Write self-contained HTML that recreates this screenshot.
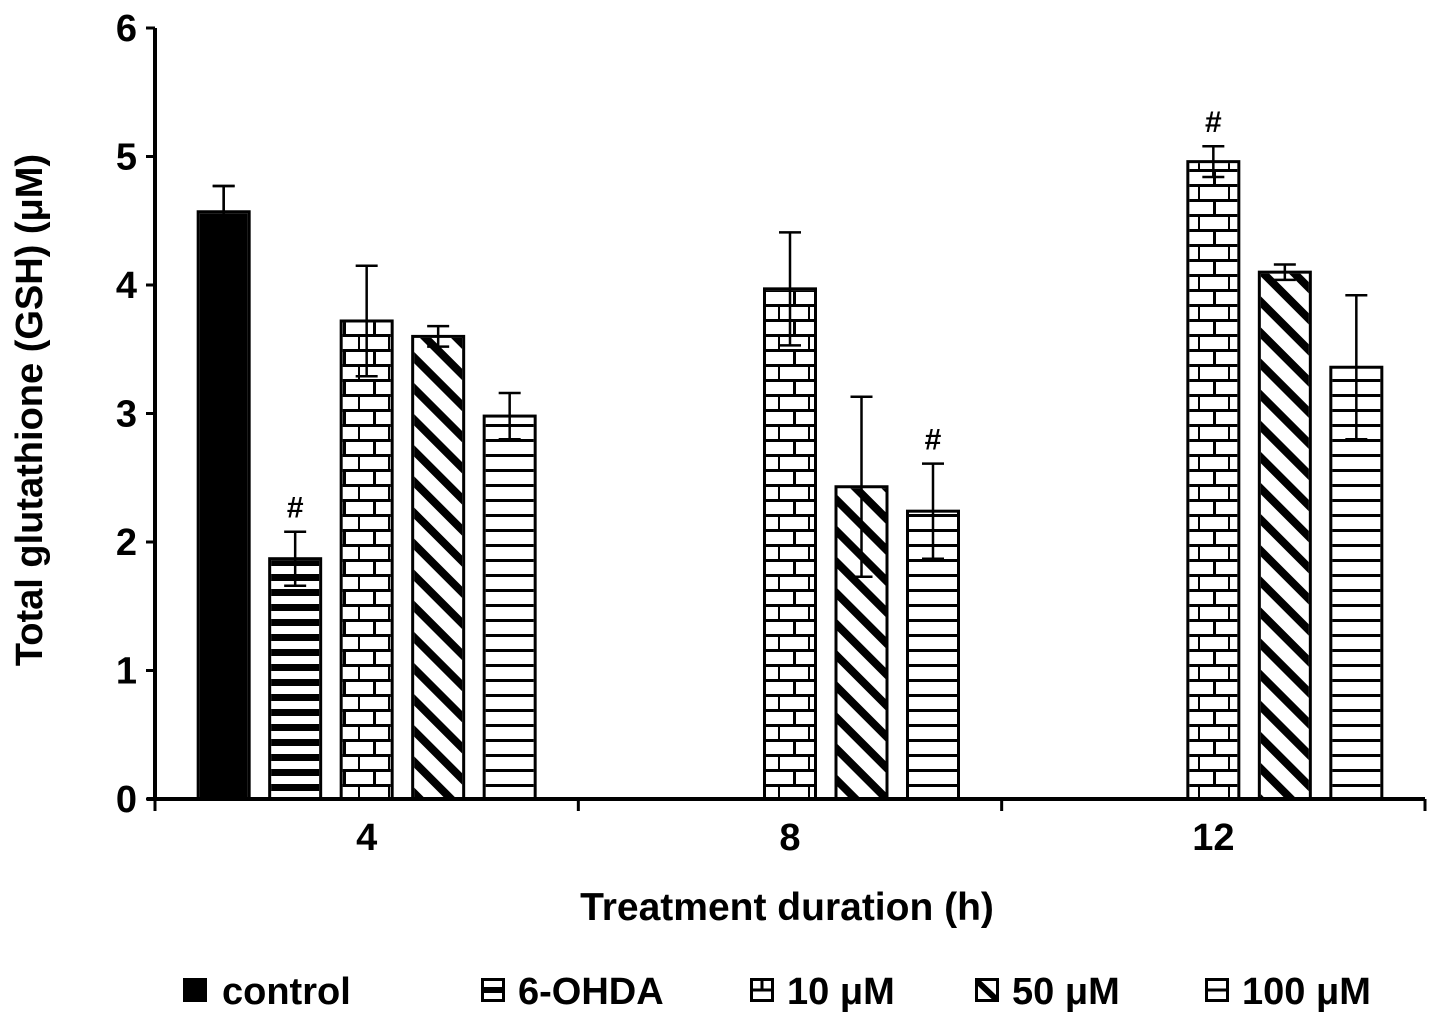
<!DOCTYPE html>
<html><head><meta charset="utf-8"><style>
body{margin:0;background:#fff}
text{font-family:"Liberation Sans",Arial,sans-serif;font-weight:bold;fill:#000}
</style></head><body>
<svg id="chart" width="1441" height="1025" xmlns="http://www.w3.org/2000/svg">
<defs>
<pattern id="p-ohda" width="20" height="15" patternUnits="userSpaceOnUse" y="799"><rect width="20" height="7" fill="#000"/></pattern>
<pattern id="p-brick" width="30" height="30" patternUnits="userSpaceOnUse" x="0" y="799">
<rect width="30" height="3" fill="#000"/><rect y="15" width="30" height="3" fill="#000"/>
<rect x="13" y="0" width="3" height="15" fill="#000"/><rect x="28" y="15" width="3" height="15" fill="#000"/></pattern>
<pattern id="p-diag" width="22" height="22" patternUnits="userSpaceOnUse" patternTransform="rotate(45)"><rect width="22" height="8" fill="#000"/></pattern>
<pattern id="p-horiz" width="20" height="15" patternUnits="userSpaceOnUse" y="799"><rect width="20" height="3" fill="#000"/></pattern>
</defs>
<g id="bars"></g>
<g id="axes"></g>
<text transform="translate(42,410) rotate(-90)" text-anchor="middle" font-size="38">Total glutathione (GSH) (μM)</text>
<text x="787" y="920" text-anchor="middle" font-size="39">Treatment duration (h)</text>
<g id="legend"></g>
</svg>
<script>
const groups=["4","8","12"];
const seriesNames=["control","6-OHDA","10 μM","50 μM","100 μM"];
const control=[4.57,null,null];
const ohda=[1.87,null,null];
const s10=[3.72,3.97,4.96];
const s50=[3.60,2.43,4.10];
const s100=[2.98,2.24,3.36];
const errControl=[0.20,null,null];
const errOhda=[0.21,null,null];
const err10=[0.43,0.44,0.12];
const err50=[0.08,0.70,0.06];
const err100=[0.18,0.37,0.56];
const sig=[[false,true,false,false,false],[false,false,false,false,true],[false,false,true,false,false]];
const yTicks=[0,1,2,3,4,5,6];
const NS="http://www.w3.org/2000/svg";
const x0=155,x1=1425,yB=799,yT=28;
const y=v=>yB-(v/6)*(yB-yT);
const groupW=(x1-x0)/groups.length;
const gc=i=>x0+groupW*(i+0.5);
const bx=(g,s)=>gc(g)+(s-2)*71.5;
const fills=["#000","url(#p-ohda)","url(#p-brick)","url(#p-diag)","url(#p-horiz)"];
const vals=[control,ohda,s10,s50,s100];
const errs=[errControl,errOhda,err10,err50,err100];
function mk(t,a,p){const e=document.createElementNS(NS,t);for(const k in a)e.setAttribute(k,a[k]);p.appendChild(e);return e;}
const bars=document.getElementById('bars');
for(let g=0;g<groups.length;g++){for(let s=0;s<5;s++){const v=vals[s][g];if(v==null)continue;
const cx=bx(g,s),w=54;
const r=mk('rect',{x:cx-w/2+1.5,y:y(v),width:w-3,height:yB-y(v),fill:"#fff",stroke:"#000","stroke-width":3},bars);


mk('rect',{x:cx-w/2+3,y:y(v)+1.5,width:w-6,height:yB-y(v)-1.5,fill:fills[s]},bars);
const e=errs[s][g];
const eg=mk('path',{d:`M${cx},${y(v-e)}V${y(v+e)}M${cx-11},${y(v+e)}H${cx+11}M${cx-11},${y(v-e)}H${cx+11}`,stroke:"#000","stroke-width":2.5,fill:"none"},bars);


if(s==0){mk('path',{d:`M${cx},${y(v)}V${y(v+e)}M${cx-11},${y(v+e)}H${cx+11}`,stroke:"#000","stroke-width":2.5},bars);}
if(sig[g][s]){const t=mk('text',{x:cx,y:y(v+e)-14,"text-anchor":"middle","font-size":30,"font-weight":"normal"},bars);t.textContent="#";

}
}}
const ax=document.getElementById('axes');
const yl=mk('path',{d:`M${x0},${yB}V${yT}`,stroke:"#000","stroke-width":4},ax);


const xl=mk('path',{d:`M${x0-8},${yB}H${x1}`,stroke:"#000","stroke-width":4},ax);


yTicks.forEach(t=>{mk('path',{d:`M${x0-9},${y(t)}H${x0}`,stroke:"#000","stroke-width":3},ax);
const tx=mk('text',{x:x0-18,y:y(t)+13,"text-anchor":"end","font-size":38},ax);tx.textContent=t;

});
for(let i=0;i<=groups.length;i++){mk('path',{d:`M${x0+groupW*i},${yB}V${yB+12}`,stroke:"#000","stroke-width":3},ax);}
groups.forEach((g,i)=>{const tx=mk('text',{x:gc(i),y:850,"text-anchor":"middle","font-size":38},ax);tx.textContent=g;

});
const lg=document.getElementById('legend');
const lx=[183,481,750,975,1205];
seriesNames.forEach((n,i)=>{const it=mk('g',{},lg);


if(i==0)mk('rect',{x:lx[i],y:978,width:24,height:24,fill:"#000"},it);
else{mk('rect',{x:lx[i]+1.5,y:979.5,width:21,height:21,fill:"#fff",stroke:"#000","stroke-width":3},it);
if(i==1){mk('rect',{x:lx[i],y:987,width:24,height:6,fill:"#000"},it);}
else if(i==3){mk('path',{d:`M${lx[i]+2},${981}L${lx[i]+22},${1000}`,stroke:"#000","stroke-width":6},it);}
else{mk('path',{d:`M${lx[i]},${990}H${lx[i]+24}`+(i==2?`M${lx[i]+12},980V990`:''),stroke:"#000","stroke-width":3},it);}}
const t=mk('text',{x:lx[i]+(i==0?39:37),y:1004,"font-size":38},it);t.textContent=n;});
</script>
</body></html>
